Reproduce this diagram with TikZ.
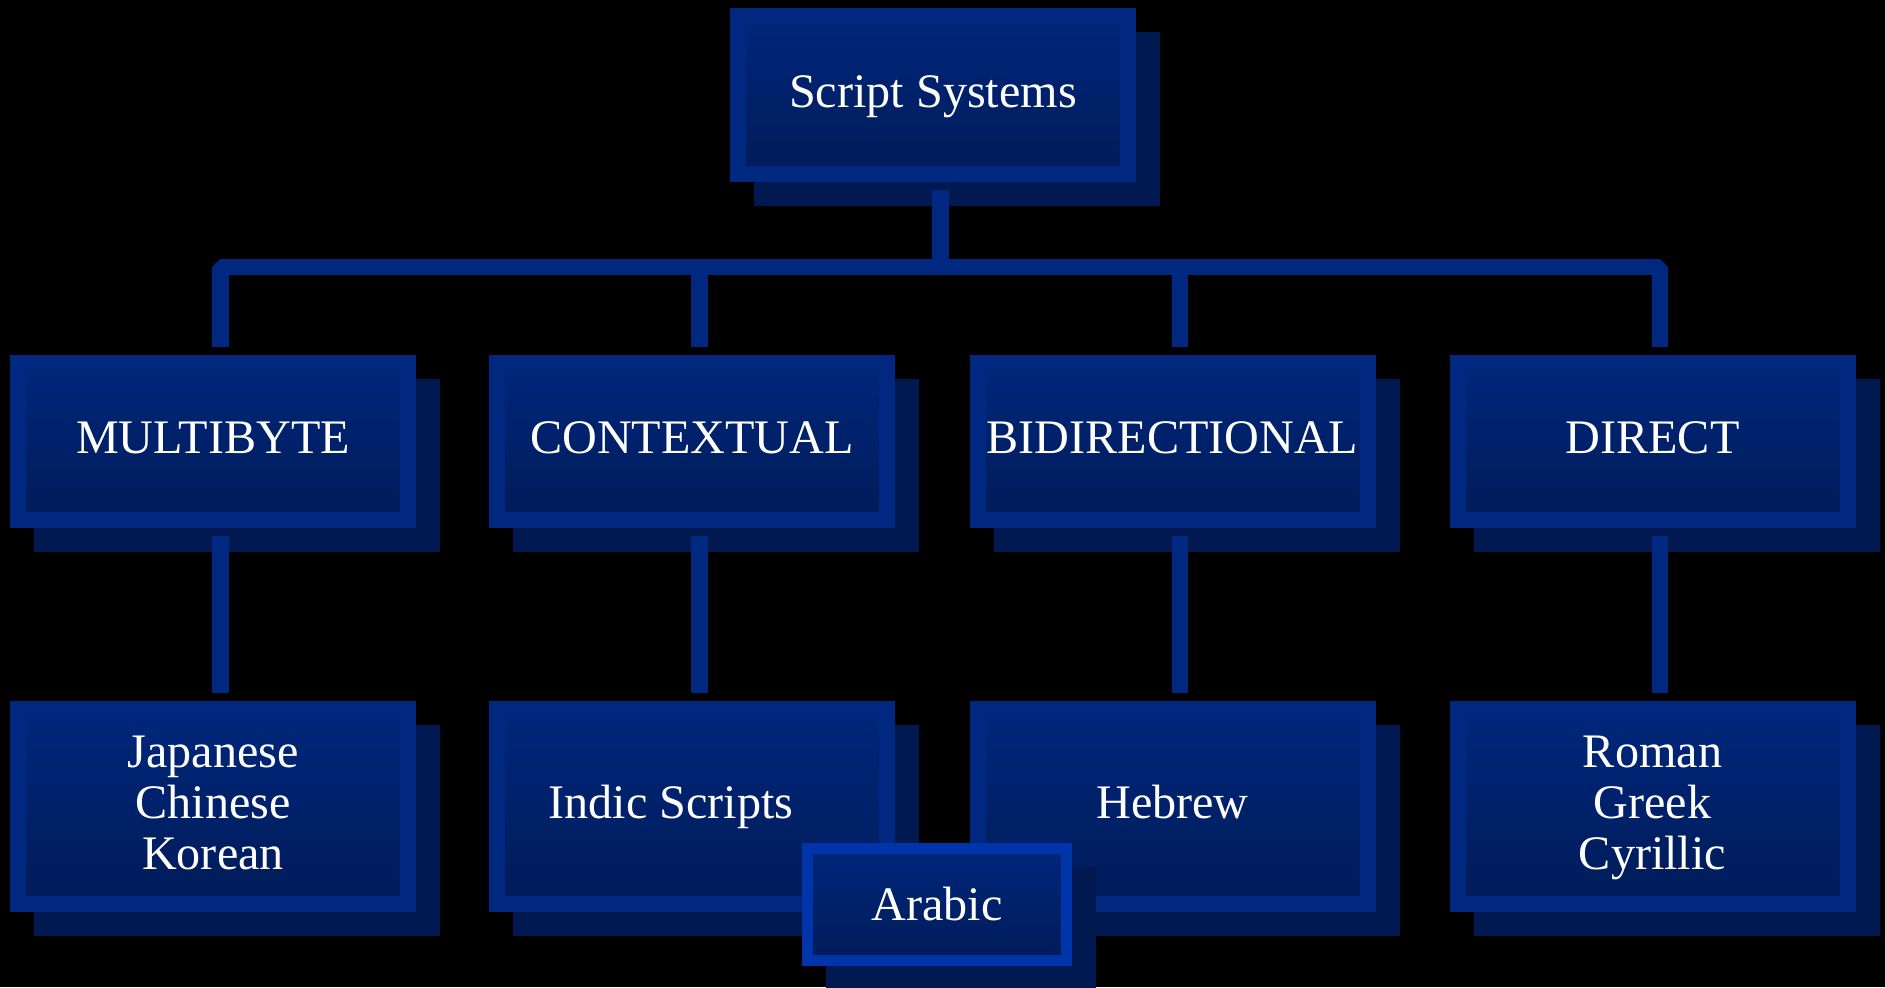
\documentclass[tikz,border=0pt]{standalone}
\usepackage{fontspec}
\setmainfont{Liberation Serif}

\definecolor{boxedge}{RGB}{0,40,128}
\definecolor{boxtop}{RGB}{0,39,124}
\definecolor{boxbot}{RGB}{0,27,88}
\definecolor{boxshade}{RGB}{0,25,80}
\definecolor{arabedge}{RGB}{0,52,170}

\tikzset{
  sysbox/.style={draw=boxedge, line width=0.32cm, top color=boxtop, bottom color=boxbot,
    minimum width=7.8cm, minimum height=3.14cm, inner sep=0pt, outer sep=0.32cm,
    text=white, align=center, font=\fontsize{27.4}{29}\selectfont,
    preaction={draw=boxshade, fill=boxshade, transform canvas={shift={(0.48,-0.48)}}}},
  oneline/.style={text height=0.6cm, text depth=0.12cm},
  threeline/.style={text height=0.6cm+58pt, text depth=0.12cm, minimum height=3.9cm},
  link/.style={draw=boxedge, line width=0.33cm, line join=bevel}
}

\begin{document}
\begin{tikzpicture}
\fill[black] (0,0) rectangle (37.7,-19.74);
\useasboundingbox (0,0) rectangle (37.7,-19.74);

\node[sysbox, oneline, minimum height=3.16cm] (script) at (18.66,-1.9) {Script Systems};

\node[sysbox, oneline] (multi) at (4.26,-8.83) {MULTIBYTE};
\node[sysbox, oneline] (context) at (13.84,-8.83) {CONTEXTUAL};
\node[sysbox, oneline] (bidi) at (23.45,-8.83) {BIDIRECTIONAL};
\node[sysbox, oneline] (direct) at (33.05,-8.83) {DIRECT};

\node[sysbox, threeline] (asian) at (4.26,-16.13) {Japanese\\Chinese\\Korean};
\node[sysbox, oneline, minimum height=3.9cm] (indic) at (13.84,-16.13) {Indic Scripts\hspace*{0.84cm}};
\node[sysbox, oneline, minimum height=3.9cm] (hebrew) at (23.45,-16.13) {Hebrew};
\node[sysbox, threeline] (european) at (33.05,-16.13) {Roman\\Greek\\Cyrillic};

%% connectors
\coordinate (bar) at (0,-5.34);
\draw[link] ([xshift=0.15cm]script.south) -- ([xshift=0.15cm]script.south |- bar);
\draw[link] ([xshift=0.15cm]multi.north) -- ([xshift=0.15cm]multi.north |- bar)
  -- ([xshift=0.15cm]direct.north |- bar) -- ([xshift=0.15cm]direct.north);
\draw[link] ([xshift=0.15cm]context.north) -- ([xshift=0.15cm]context.north |- bar);
\draw[link] ([xshift=0.15cm]bidi.north) -- ([xshift=0.15cm]bidi.north |- bar);

\draw[link] ([xshift=0.15cm]multi.south) -- ([xshift=0.15cm]asian.north);
\draw[link] ([xshift=0.15cm]context.south) -- ([xshift=0.15cm]indic.north);
\draw[link] ([xshift=0.15cm]bidi.south) -- ([xshift=0.15cm]hebrew.north);
\draw[link] ([xshift=0.15cm]direct.south) -- ([xshift=0.15cm]european.north);

%% Arabic sits on top
\node[sysbox, draw=arabedge, line width=0.22cm, minimum width=5.18cm, minimum height=2.24cm,
  outer sep=0.22cm] (arabic) at (18.74,-18.09) {Arabic};
\end{tikzpicture}
\end{document}
